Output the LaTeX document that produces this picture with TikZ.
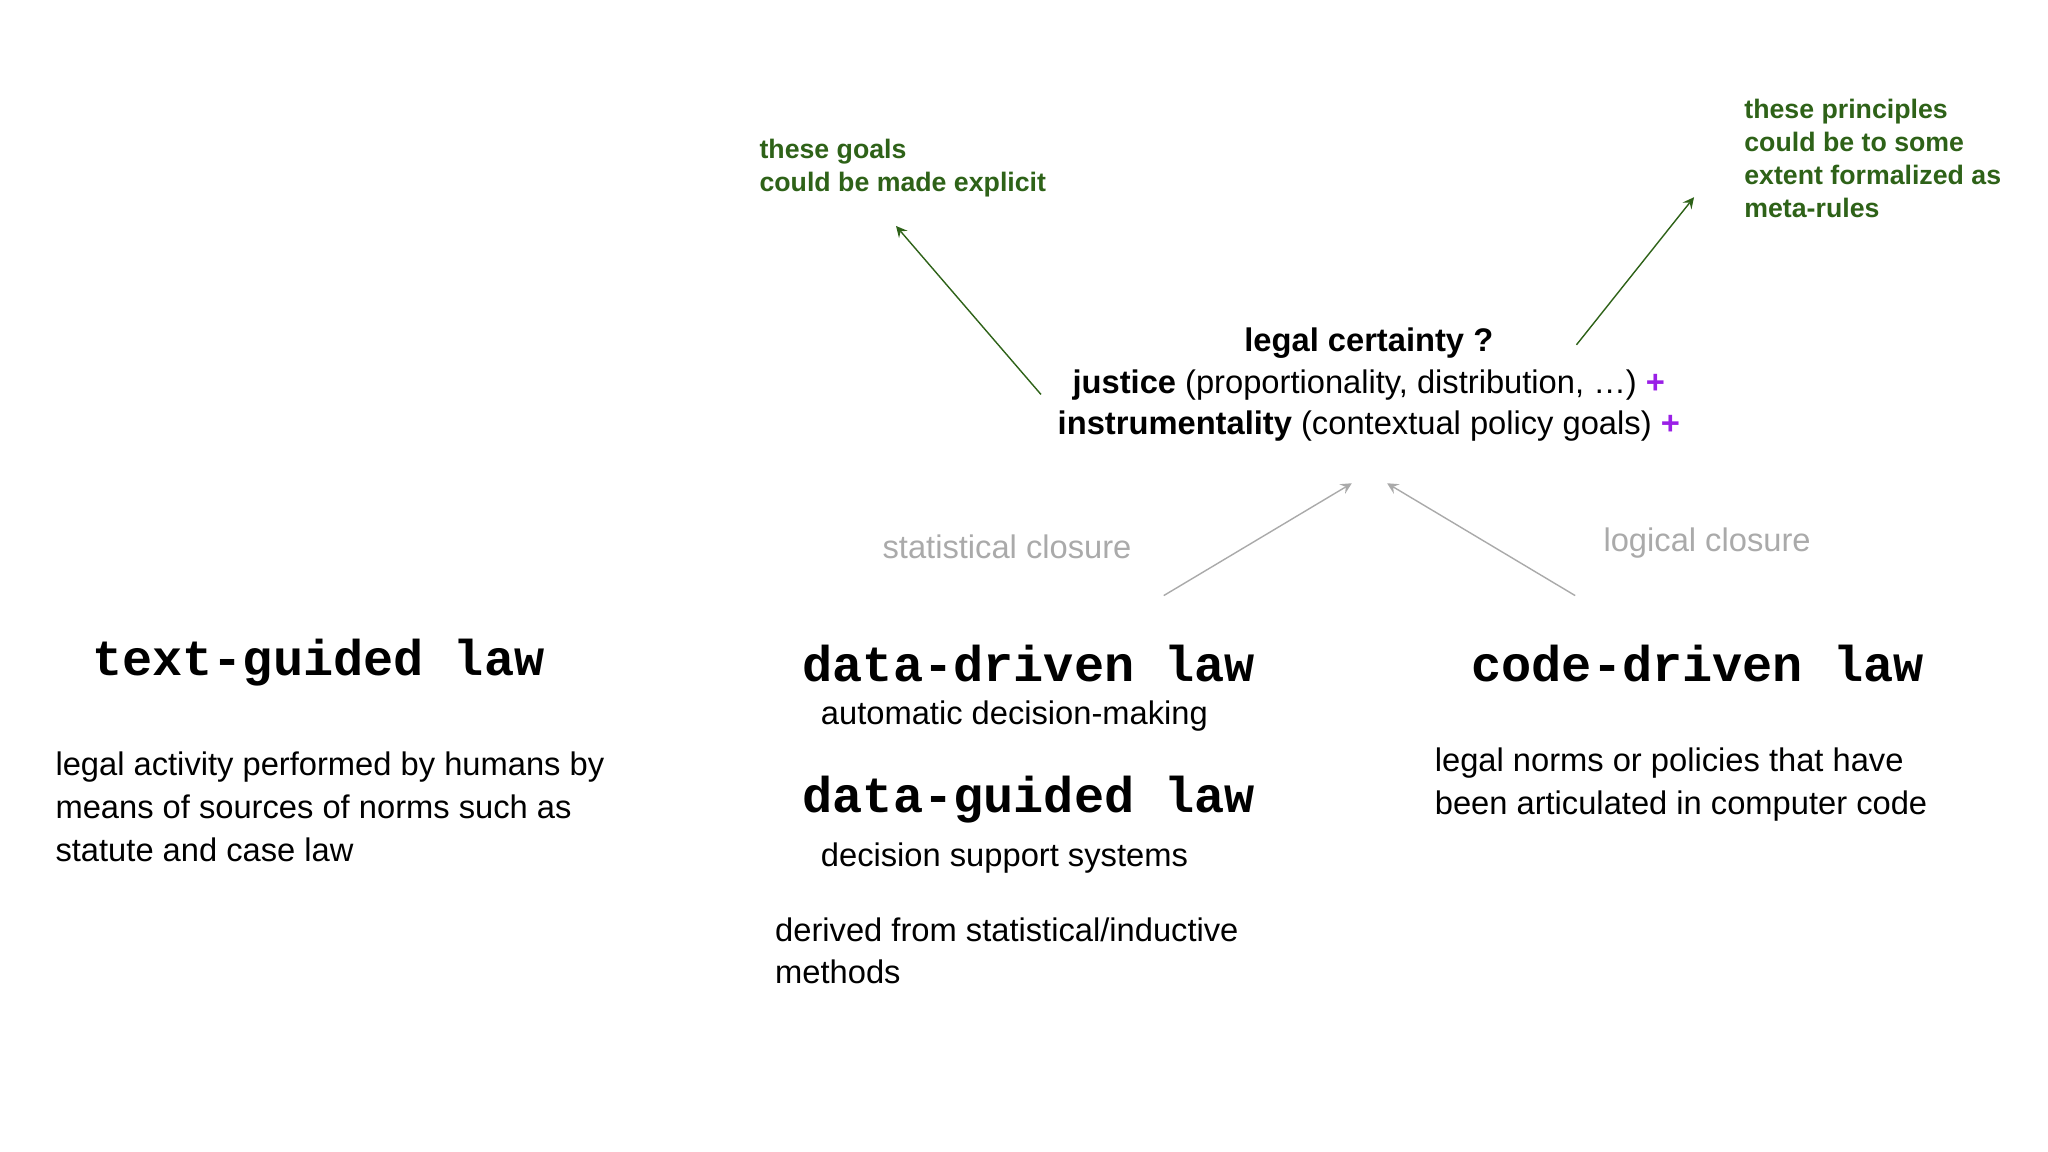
\documentclass[tikz,border=0pt]{standalone}
\usepackage{fontspec}
\setmainfont{Liberation Sans}
\newfontfamily\cmono{Liberation Mono}
\definecolor{dgreen}{HTML}{2E6218}
\definecolor{pplus}{HTML}{9A1FE6}
\definecolor{lgray}{HTML}{AAAAAA}
\begin{document}
\begin{tikzpicture}[x=0.01306cm,y=-0.01306cm,
  body/.style={font=\fontsize{9.3}{12.2}\selectfont,anchor=west,align=left,inner sep=0pt},
  title/.style={font=\cmono\bfseries\fontsize{14.3}{16}\selectfont,anchor=west,inner sep=0pt},
  note/.style={font=\bfseries\fontsize{7.6}{9.4}\selectfont,text=dgreen,anchor=west,align=left,inner sep=0pt},
  ctr/.style={font=\fontsize{9.3}{12}\selectfont,inner sep=0pt},
  gray/.style={font=\fontsize{9.3}{12}\selectfont,text=lgray,inner sep=0pt},
  garrow/.style={-stealth,draw=dgreen,thin},
  carrow/.style={-stealth,draw=lgray,thin}]
\useasboundingbox (0,0) rectangle (1568,882);
\node[note] (goals) at (581,129) {these goals\\could be made explicit};
\node[note] (princ) at (1335,121) {these principles\\could be to some\\extent formalized as\\meta-rules};
\node[ctr] (lc) at (1048,263) {\textbf{legal certainty ?}};
\node[ctr] (jus) at (1048,295) {\textbf{justice} (proportionality, distribution, \dots) \textcolor{pplus}{\textbf{+}}};
\node[ctr] (ins) at (1048,326) {\textbf{instrumentality} (contextual policy goals) \textcolor{pplus}{\textbf{+}}};
\coordinate (gl1) at (797,302); \coordinate (gl2) at (686,173);
\coordinate (gr1) at (1207,264); \coordinate (gr2) at (1297,151);
\draw[garrow] (gl1) -- (gl2);
\draw[garrow] (gr1) -- (gr2);
\coordinate (s1) at (891,456); \coordinate (s2) at (1035,370);
\coordinate (l1) at (1206,456); \coordinate (l2) at (1062,370);
\draw[carrow] (s1) -- (s2);
\draw[carrow] (l1) -- (l2);
\node[gray] (stat) at (771,419) {statistical closure};
\node[gray] (logi) at (1307,416) {logical closure};
\node[title] (tg) at (70,507) {text-guided law};
\node[title] (dd) at (614,508) {data-driven law};
\node[title] (cd) at (1126,508) {code-driven law};
\node[title] (dg) at (614,612) {data-guided law};
\node[body] (adm) at (628,548) {automatic decision-making};
\node[body] (dss) at (628,657) {decision support systems};
\node[body] (tgd) at (42,618) {legal activity performed by humans by\\means of sources of norms such as\\statute and case law};
\node[body] (cdd) at (1098,601) {legal norms or policies that have\\been articulated in computer code};
\node[body] (der) at (593,728) {derived from statistical/inductive\\methods};
\end{tikzpicture}
\end{document}
